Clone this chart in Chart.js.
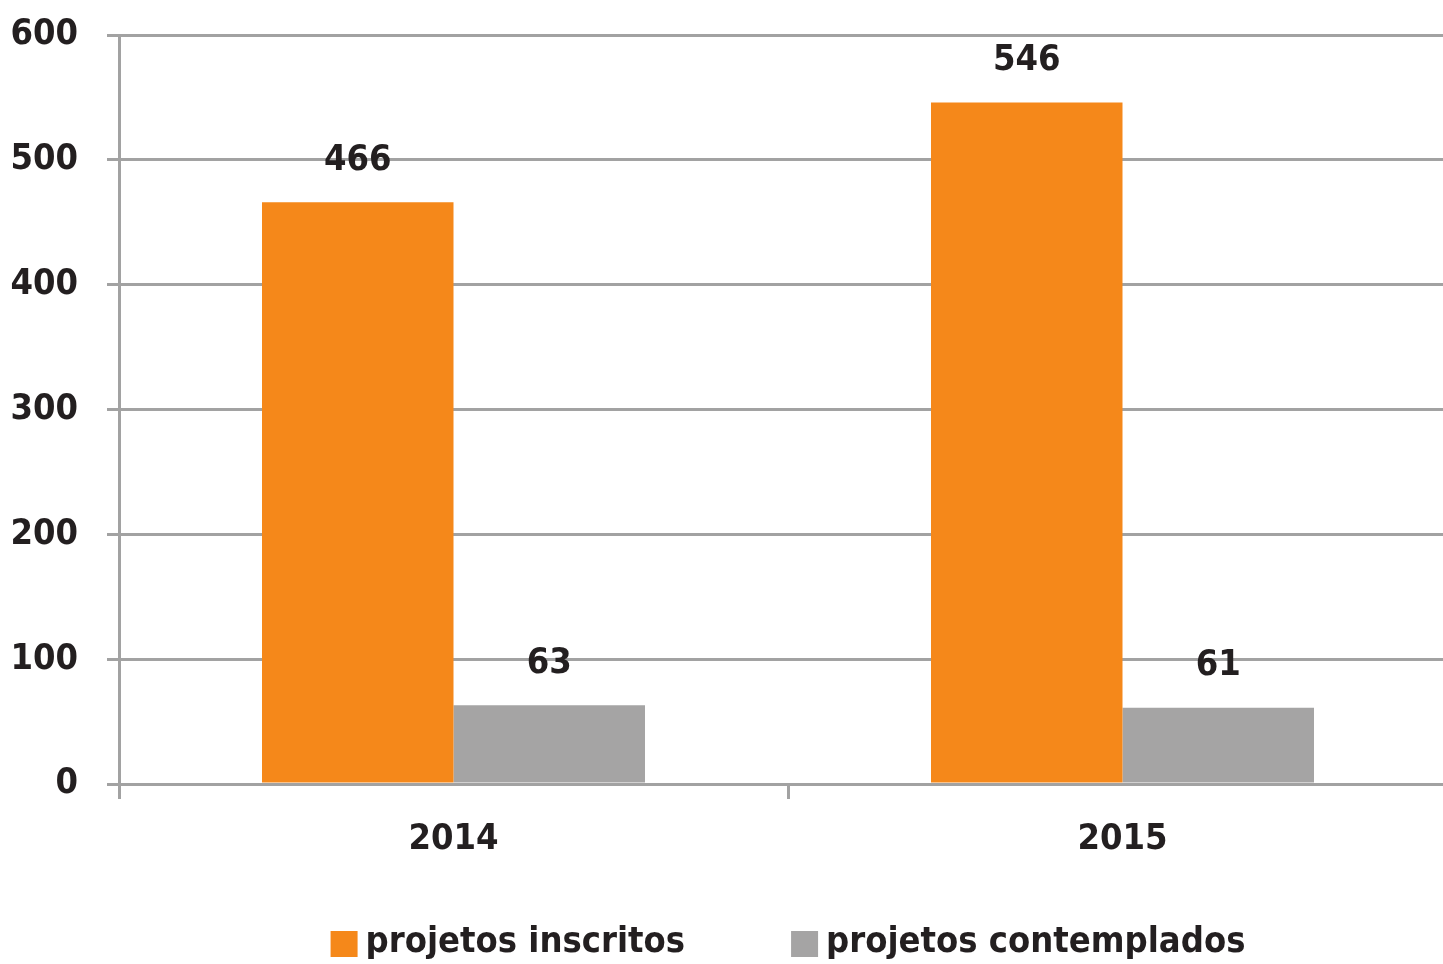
<!DOCTYPE html>
<html>
<head>
<meta charset="utf-8">
<script src="https://cdn.jsdelivr.net/npm/chart.js@4.4.1/dist/chart.umd.min.js"></script>
<style>
  html, body { margin: 0; padding: 0; background: #fff; overflow: hidden; }
  #wrap { width: 1457px; height: 964px; }
</style>
</head>
<body>
<div id="wrap"><canvas id="projChart" width="1457" height="964"></canvas></div>
<script>
// data
const years = ["2014", "2015"];
const inscritos = [466, 546];
const contemplados = [63, 61];
const yTicks = [0, 100, 200, 300, 400, 500, 600];

const seriesNames = ["projetos inscritos", "projetos contemplados"];
const seriesColors = ["#f5881a", "#a5a4a4"];

const FONT = "'DejaVu Sans Condensed', 'DejaVu Sans', sans-serif";
const TEXT = "#231f20";
const GRID = "#a2a2a2";

// value labels above each bar
const barLabels = {
    id: "barLabels",
    afterDatasetsDraw(chart) {
        const c = chart.ctx;
        c.save();
        c.font = "bold 36px " + FONT;
        c.fillStyle = TEXT;
        c.textAlign = "center";
        c.textBaseline = "middle";
        chart.data.datasets.forEach((ds, i) => {
            chart.getDatasetMeta(i).data.forEach((bar, j) => {
                c.fillText(String(ds.data[j]), bar.x, bar.y - 42);
            });
        });
        c.restore();
    }
};

// legend drawn under the axis, centred on the plot area
const bottomLegend = {
    id: "bottomLegend",
    afterDraw(chart) {
        const c = chart.ctx;
        const area = chart.chartArea;
        const box = 27, gapText = 8, gapItem = 106, yMid = 944;
        c.save();
        c.font = "bold 36px " + FONT;
        c.textBaseline = "middle";
        const items = chart.data.datasets.map(ds => ({
            text: ds.label,
            color: ds.backgroundColor,
            w: box + gapText + c.measureText(ds.label).width
        }));
        const total = items.reduce((s, it) => s + it.w, 0) + gapItem * (items.length - 1);
        let x = (area.left + area.right) / 2 - total / 2;
        items.forEach(it => {
            c.fillStyle = it.color;
            c.fillRect(x, yMid - 13, box, 26);
            c.fillStyle = TEXT;
            c.textAlign = "left";
            c.fillText(it.text, x + box + gapText, yMid - 1);
            x += it.w + gapItem;
        });
        c.restore();
    }
};

const ctx = document.getElementById("projChart").getContext("2d");

const chart = new Chart(ctx, {
    type: "bar",
    data: {
        labels: years,
        datasets: [
            { label: seriesNames[0], data: inscritos, backgroundColor: seriesColors[0] },
            { label: seriesNames[1], data: contemplados, backgroundColor: seriesColors[1] }
        ]
    },
    options: {
        responsive: false,
        animation: false,
        layout: { padding: { top: 35, right: 0, bottom: 0, left: 0 } },
        datasets: {
            bar: { categoryPercentage: 0.5725, barPercentage: 1, borderWidth: 0 }
        },
        plugins: {
            legend: { display: false },
            tooltip: { enabled: false }
        },
        scales: {
            x: {
                offset: true,
                grid: {
                    display: true,
                    drawOnChartArea: false,
                    drawTicks: true,
                    tickLength: 15,
                    color: GRID,
                    lineWidth: 3
                },
                border: { display: true, color: GRID, width: 3 },
                ticks: {
                    color: TEXT,
                    font: { family: FONT, size: 36, weight: "bold" },
                    padding: 19
                },
                afterFit: scale => { scale.height = 180; }
            },
            y: {
                min: 0,
                max: 600,
                afterBuildTicks: scale => { scale.ticks = yTicks.map(v => ({ value: v })); },
                grid: {
                    color: GRID,
                    lineWidth: 3,
                    tickLength: 12
                },
                border: { display: true, color: GRID, width: 3 },
                ticks: {
                    color: TEXT,
                    font: { family: FONT, size: 36, weight: "bold" },
                    padding: 29
                },
                afterFit: scale => {
                    scale.width = 119;
                    scale.paddingTop = 0;
                    scale.paddingBottom = 0;
                }
            }
        }
    },
    plugins: [barLabels, bottomLegend]
});
</script>
</body>
</html>
